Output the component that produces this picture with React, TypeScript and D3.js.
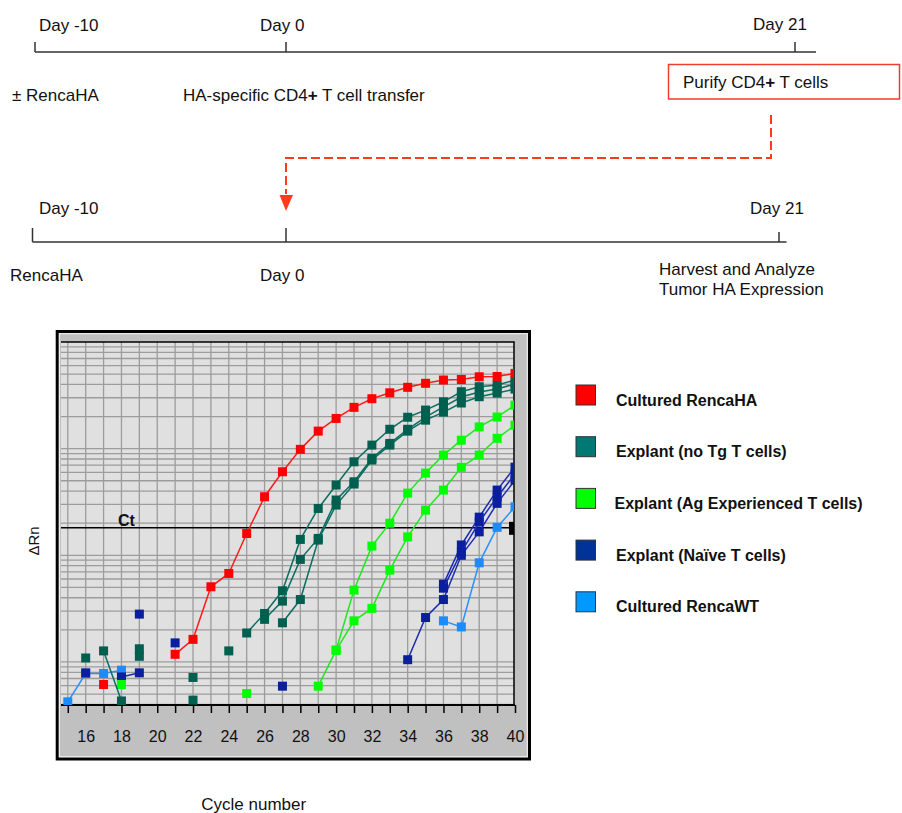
import React, { useEffect, useRef } from 'react';
import * as d3 from 'd3';

// qPCR cycles on the x axis
const cycleTicks = [15, 16, 17, 18, 19, 20, 21, 22, 23, 24, 25, 26, 27, 28, 29, 30, 31, 32, 33, 34, 35, 36, 37, 38, 39, 40];
const cycleLabels = [16, 18, 20, 22, 24, 26, 28, 30, 32, 34, 36, 38, 40];

const ctThreshold = 0.0181;

// [cycle, ΔRn]
const rencaHA = [[17, 0.000615], [21, 0.00118], [22, 0.00163], [23, 0.00507], [24, 0.00676], [25, 0.016], [26, 0.0354], [27, 0.0607], [28, 0.0985], [29, 0.146], [30, 0.192], [31, 0.244], [32, 0.294], [33, 0.334], [34, 0.376], [35, 0.41], [36, 0.44], [37, 0.445], [38, 0.472], [39, 0.475], [40, 0.508]];

const noTg1 = [[16, 0.00109], [19, 0.00133], [22, 0.000716], [25, 0.00187], [26, 0.00285], [27, 0.00465], [28, 0.0141], [29, 0.0275], [30, 0.0456], [31, 0.0753], [32, 0.108], [33, 0.152], [34, 0.197], [35, 0.23], [36, 0.275], [37, 0.342], [38, 0.381], [39, 0.395], [40, 0.44]];
const noTg2 = [[17, 0.00127], [18, 0.000431], [22, 0.000439], [24, 0.00127], [26, 0.00251], [27, 0.00372], [28, 0.00916], [29, 0.0144], [30, 0.033], [31, 0.0489], [32, 0.0811], [33, 0.112], [34, 0.152], [35, 0.198], [36, 0.246], [37, 0.305], [38, 0.34], [39, 0.362], [40, 0.404]];
const noTg3 = [[19, 0.00113], [27, 0.00233], [28, 0.00385], [29, 0.0139], [30, 0.0296], [31, 0.0466], [32, 0.0782], [33, 0.108], [34, 0.146], [35, 0.185], [36, 0.22], [37, 0.268], [38, 0.307], [39, 0.332], [40, 0.362]];

const agExp1 = [[18, 0.000615], [25, 0.000506], [29, 0.000593], [30, 0.00129], [31, 0.00472], [32, 0.0122], [33, 0.02], [34, 0.0383], [35, 0.059], [36, 0.0871], [37, 0.12], [38, 0.16], [39, 0.198], [40, 0.256]];
const agExp2 = [[30, 0.00129], [31, 0.00243], [32, 0.00318], [33, 0.00726], [34, 0.0149], [35, 0.0265], [36, 0.0409], [37, 0.0668], [38, 0.0871], [39, 0.125], [40, 0.166]];

const naive1 = [[16, 0.000791], [18, 0.000724], [19, 0.000791], [21, 0.00151], [27, 0.000593], [34, 0.00105], [35, 0.00261], [36, 0.00385], [37, 0.01], [38, 0.0166], [39, 0.0307], [40, 0.0507]];
const naive2 = [[19, 0.00281], [36, 0.00537], [37, 0.0125], [38, 0.0228], [39, 0.0409], [40, 0.0671]];
const naive3 = [[36, 0.00492], [37, 0.0107], [38, 0.0205], [39, 0.0352], [40, 0.0578]];

const rencaWT = [[15, 0.000423], [16, 0.00078], [17, 0.00078], [18, 0.000838], [36, 0.00243], [37, 0.00213], [38, 0.00851], [39, 0.0183], [40, 0.0285]];

const legendNames = ['Cultured RencaHA', 'Explant (no Tg T cells)', 'Explant (Ag Experienced T cells)', 'Explant (Naïve T cells)', 'Cultured RencaWT'];
const legendColors = ['#ff0000', '#007873', '#00ff00', '#003399', '#0099ff'];

const FONT = "'Liberation Sans', Arial, sans-serif";

// split a replicate into runs of consecutive cycles (the instrument only joins neighbours)
const runs = (pts) => {
  const out = [];
  let cur = [];
  pts.forEach((p, i) => {
    if (i > 0 && p[0] - pts[i - 1][0] !== 1) {
      out.push(cur);
      cur = [];
    }
    cur.push(p);
  });
  if (cur.length) out.push(cur);
  return out;
};

const App = () => {
  const ref = useRef<SVGSVGElement>(null);

  useEffect(() => {
    const svg = d3.select(ref.current);
    svg.selectAll('*').remove();

    const addText = (x, y, parts, size = 17, anchor = 'start') => {
      const t = svg.append('text')
        .attr('x', x)
        .attr('y', y)
        .attr('font-size', size)
        .attr('font-family', FONT)
        .attr('fill', '#111')
        .attr('text-anchor', anchor);
      parts.forEach(([s, bold]) => {
        t.append('tspan').attr('font-weight', bold ? 'bold' : 'normal').text(s);
      });
      return t;
    };

    // ---- timeline 1
    const tl = svg.append('g').attr('stroke', '#333').attr('stroke-width', 1.5);
    tl.append('line').attr('x1', 35).attr('x2', 816).attr('y1', 52).attr('y2', 52);
    [35, 286, 795].forEach(px => {
      tl.append('line').attr('x1', px).attr('x2', px).attr('y1', 42).attr('y2', 52);
    });
    addText(39, 30.5, [['Day -10']]);
    addText(260, 30.5, [['Day 0']]);
    addText(753, 29.5, [['Day 21']]);
    addText(12, 101, [['± RencaHA']]);
    addText(183, 101, [['HA-specific CD4'], ['+', true], [' T cell transfer']]);

    svg.append('rect')
      .attr('x', 668.5).attr('y', 64.5).attr('width', 231).attr('height', 34.5)
      .attr('fill', 'none').attr('stroke', '#ee3d2b').attr('stroke-width', 1.5);
    addText(683, 87.5, [['Purify CD4'], ['+', true], [' T cells']]);

    // dashed transfer arrow
    svg.append('path')
      .attr('d', 'M771,115 V158 H286 V194')
      .attr('fill', 'none')
      .attr('stroke', '#ff3b1c')
      .attr('stroke-width', 2)
      .attr('stroke-dasharray', '9,4');
    svg.append('path')
      .attr('d', 'M279.5,195 L293,195 L286,211 Z')
      .attr('fill', '#ff3b1c');

    // ---- timeline 2
    const tl2 = svg.append('g').attr('stroke', '#333').attr('stroke-width', 1.5);
    tl2.append('line').attr('x1', 32.5).attr('x2', 786.5).attr('y1', 242).attr('y2', 242);
    tl2.append('line').attr('x1', 32.5).attr('x2', 32.5).attr('y1', 228).attr('y2', 242);
    tl2.append('line').attr('x1', 286).attr('x2', 286).attr('y1', 228).attr('y2', 242);
    tl2.append('line').attr('x1', 779).attr('x2', 779).attr('y1', 232).attr('y2', 242);
    addText(39, 214, [['Day -10']]);
    addText(750, 214, [['Day 21']]);
    addText(10, 281, [['RencaHA']]);
    addText(260, 281, [['Day 0']]);
    addText(659, 274.5, [['Harvest and Analyze']]);
    addText(659, 295, [['Tumor HA Expression']]);

    // ---- amplification plot
    const plot = { left: 61, right: 514, top: 342, bottom: 705 };
    const x = d3.scaleLinear().domain([14.62, 40]).range([61, 515]);
    const y = d3.scaleLog().domain([3.95e-4, 1]).range([plot.bottom, plot.top]);

    // instrument frame
    svg.append('rect')
      .attr('x', 57.2).attr('y', 331.5).attr('width', 472.3).attr('height', 427.5)
      .attr('fill', '#c0c0c0').attr('stroke', '#000').attr('stroke-width', 3);
    svg.append('rect')
      .attr('x', 59.4).attr('y', 333.7).attr('width', 467.9).attr('height', 423)
      .attr('fill', 'none').attr('stroke', '#f2f2f2').attr('stroke-width', 1);
    svg.append('rect')
      .attr('x', plot.left).attr('y', plot.top)
      .attr('width', plot.right - plot.left).attr('height', plot.bottom - plot.top)
      .attr('fill', '#e0e0e0');

    svg.append('clipPath').attr('id', 'plot-clip')
      .append('rect')
      .attr('x', plot.left).attr('y', plot.top)
      .attr('width', plot.right - plot.left).attr('height', plot.bottom - plot.top);

    const grid = svg.append('g').attr('stroke', '#9c9c9c').attr('stroke-width', 1.3);
    cycleTicks.filter(c => c < 40).forEach(c => {
      grid.append('line').attr('x1', x(c)).attr('x2', x(c)).attr('y1', plot.top).attr('y2', plot.bottom);
    });
    y.ticks().filter(v => v < 1).forEach(v => {
      grid.append('line').attr('x1', plot.left).attr('x2', plot.right).attr('y1', y(v)).attr('y2', y(v));
    });

    // plot border
    svg.append('path')
      .attr('d', `M${plot.left},${plot.top} H${plot.right} V${plot.bottom}`)
      .attr('fill', 'none').attr('stroke', '#000').attr('stroke-width', 1.5);
    svg.append('line')
      .attr('x1', plot.left).attr('x2', plot.right + 1)
      .attr('y1', plot.bottom).attr('y2', plot.bottom)
      .attr('stroke', '#000').attr('stroke-width', 2);

    // threshold
    svg.append('line')
      .attr('x1', plot.left).attr('x2', plot.right)
      .attr('y1', y(ctThreshold)).attr('y2', y(ctThreshold))
      .attr('stroke', '#000').attr('stroke-width', 1.5);
    addText(118, y(ctThreshold) - 2, [['Ct', true]], 16);
    svg.append('rect')
      .attr('x', 509).attr('y', y(ctThreshold) - 6).attr('width', 5).attr('height', 13)
      .attr('fill', '#000');

    const series = [
      { reps: [rencaWT], marker: '#1a8cff', line: '#2a90ff' },
      { reps: [naive1, naive2, naive3], marker: '#0c1ea0', line: '#1c2cb0' },
      { reps: [agExp1, agExp2], marker: '#00ff00', line: '#1ee81e' },
      { reps: [noTg1, noTg2, noTg3], marker: '#00604f', line: '#0a6e60' },
      { reps: [rencaHA], marker: '#ff0000', line: '#ff1a1a' },
    ];

    const g = svg.append('g').attr('clip-path', 'url(#plot-clip)');
    const line = d3.line().x(d => x(d[0])).y(d => y(d[1]));
    const m = 9;

    series.forEach(s => {
      s.reps.forEach(rep => {
        runs(rep).filter(r => r.length > 1).forEach(r => {
          g.append('path')
            .datum(r)
            .attr('d', line)
            .attr('fill', 'none')
            .attr('stroke', s.line)
            .attr('stroke-width', 1.5);
        });
        g.selectAll(null)
          .data(rep)
          .enter()
          .append('rect')
          .attr('x', d => x(d[0]) - m / 2)
          .attr('y', d => y(d[1]) - m / 2)
          .attr('width', m)
          .attr('height', m)
          .attr('fill', s.marker);
      });
    });

    // x axis in the grey band
    const axis = d3.axisBottom(x)
      .tickValues(cycleTicks)
      .tickSize(8)
      .tickPadding(18)
      .tickFormat(d => (cycleLabels.includes(d) ? String(d) : ''));
    const gx = svg.append('g')
      .attr('transform', `translate(0,${plot.bottom})`)
      .call(axis)
      .attr('font-size', 16)
      .attr('font-family', FONT);
    gx.select('.domain').remove();
    gx.selectAll('line').attr('stroke', '#000').attr('stroke-width', 1.5);
    gx.selectAll('text').attr('fill', '#111');

    // axis titles
    svg.append('text')
      .attr('transform', 'translate(38.5,541) rotate(-90)')
      .attr('text-anchor', 'middle')
      .attr('font-size', 15)
      .attr('font-family', FONT)
      .attr('fill', '#111')
      .text('ΔRn');
    addText(253.7, 810, [['Cycle number']], 17, 'middle');

    // legend
    legendNames.forEach((name, i) => {
      const ly = 385 + i * 51.7;
      svg.append('rect')
        .attr('x', 576).attr('y', ly).attr('width', 19.5).attr('height', 20)
        .attr('fill', legendColors[i]).attr('stroke', '#333').attr('stroke-width', 1);
      addText(i === 2 ? 614.5 : 616, ly + 20.5, [[name, true]], 16);
    });
  }, []);

  return (
    <svg
      ref={ref}
      width={902}
      height={813}
      style={{ position: 'absolute', left: 0, top: 0, background: '#fff' }}
    />
  );
};

export default App;
